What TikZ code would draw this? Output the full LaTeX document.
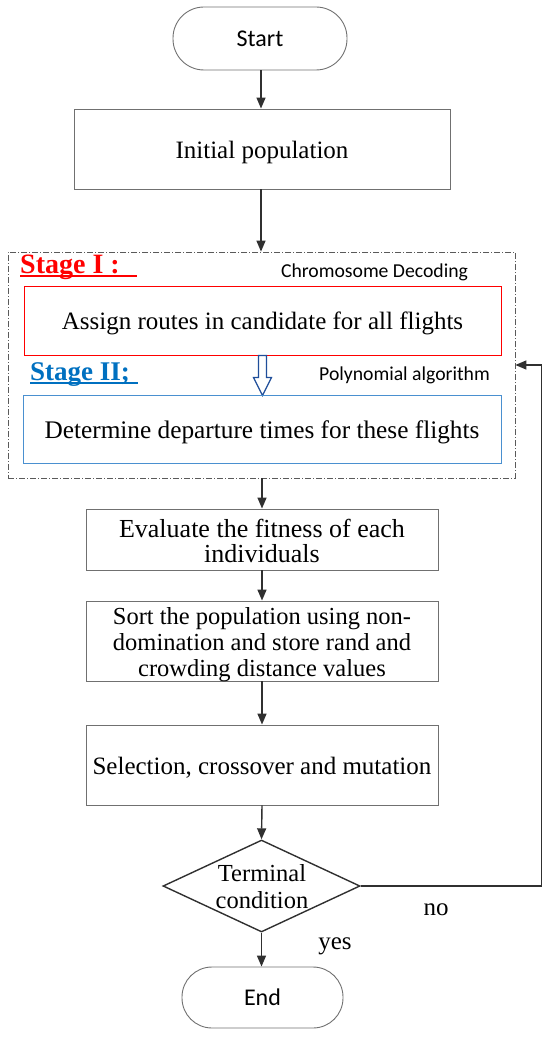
\documentclass[tikz,border=0pt]{standalone}
\usepackage{fontspec}
\setmainfont{Liberation Serif}
\newfontfamily\calib{Carlito}
\usetikzlibrary{arrows.meta,shapes.geometric,calc}
\definecolor{boxgray}{HTML}{707070}
\definecolor{linedark}{HTML}{303030}
\definecolor{stageblue}{HTML}{0070C0}
\definecolor{boxblue}{HTML}{4A90D0}
\definecolor{navy}{HTML}{1F4E9A}
\tikzset{
  flowbox/.style={draw=boxgray, line width=0.9pt, inner sep=0pt},
  ovalbox/.style={draw=boxgray, line width=0.9pt, inner sep=0pt,
    font=\calib\fontsize{24}{26}\selectfont},
  flowarrow/.style={draw=linedark, line width=1.4pt, -{Triangle[length=11pt,width=9pt]}},
  note/.style={inner sep=0pt, font=\calib\fontsize{19.7}{22}\selectfont},
  lbl/.style={inner sep=0pt, align=center, font=\fontsize{25}{26}\selectfont},
}
\begin{document}
\begin{tikzpicture}[x=1pt,y=-1pt]
\useasboundingbox (0,0) rectangle (550,1038);
% start
\node[ovalbox, minimum width=174pt, minimum height=63pt, rounded corners=31pt] (start) at (260,38.5) {Start};
% initial population
\node[flowbox, minimum width=376pt, minimum height=80pt] (init) at (262,149) {};
\node[lbl] (inittxt) at ($(init)+(0,3)$) {Initial population};
% dashed stage box
\node[draw=boxgray!80!black, line width=0.8pt, dash pattern=on 6pt off 2pt on 1pt off 2pt,
      minimum width=507pt, minimum height=226pt, inner sep=0pt] (stages) at (261.5,365) {};
% stage I
\node[inner sep=0pt, anchor=base west, text=red, font=\bfseries\fontsize{28}{30}\selectfont] (s1) at (20,273) {Stage I\hspace{7pt}:};
\draw[red, line width=2pt] ([yshift=-2.5pt]s1.base west) -- ++(117,0);
\node[note] (cd) at (374.5,272) {Chromosome Decoding};
\node[flowbox, draw=red, minimum width=477pt, minimum height=69pt] (assign) at (262.5,320.5) {};
\node[lbl] (assigntxt) at ($(assign)+(0,2.5)$) {Assign routes in candidate for all flights};
% hollow arrow
\draw[navy, line width=1.2pt, fill=white, line join=miter]
  ($(assign.south)+(-4,0)$) -- ++(8,0) -- ++(0,22) -- ++(5,0) -- ($(assign.south)+(0,40)$)
  -- ++(-9,-18) -- ++(5,0) -- cycle;
% stage II
\node[inner sep=0pt, anchor=base west, text=stageblue, font=\bfseries\fontsize{27}{29}\selectfont] (s2) at (30,380) {Stage II;};
\draw[stageblue, line width=2pt] ([yshift=-2.5pt]s2.base west) -- ++(108,0);
\node[note] (pa) at (404.5,375) {Polynomial algorithm};
\node[flowbox, draw=boxblue, minimum width=478pt, minimum height=68pt] (determine) at (262,429) {};
\node[lbl, font=\fontsize{25.3}{26}\selectfont] (determinetxt) at ($(determine)+(0,3)$) {Determine departure times for these flights};
% evaluate
\node[flowbox, minimum width=352pt, minimum height=61pt] (eval) at (262,539.5) {};
\node[lbl, font=\fontsize{26}{25}\selectfont] (evaltxt) at ($(eval)+(0,1.5)$) {Evaluate the fitness of each\\individuals};
% sort
\node[flowbox, minimum width=352pt, minimum height=80pt] (sort) at (262,641) {};
\node[lbl, font=\fontsize{24.5}{26}\selectfont] (sorttxt) at ($(sort)+(0,4)$) {Sort the population using non-\\domination and store rand and\\crowding distance values};
% selection
\node[flowbox, minimum width=352pt, minimum height=80pt] (sel) at (262,765) {};
\node[lbl] (seltxt) at ($(sel)+(0,3)$) {Selection, crossover and mutation};
% decision
\node[diamond, draw=linedark, line width=1.4pt, minimum width=197pt, minimum height=92pt, inner sep=0pt] (cond) at (261.5,886) {};
\node[lbl, font=\fontsize{24.5}{27}\selectfont] (condtxt) at (262,887) {Terminal\\condition};
% end
\node[ovalbox, minimum width=161pt, minimum height=61pt, rounded corners=30pt] (end) at (262.5,997.5) {End};
% labels
\node[lbl] (no) at (436,910) {no};
\node[lbl] (yes) at (335,946) {yes};
% arrows
\draw[flowarrow] (start.south -| 261,0) -- (init.north -| 261,0);
\draw[flowarrow] (init.south -| 261,0) -- (stages.north -| 261,0);
\draw[flowarrow] (stages.south -| 262,0) -- (eval.north -| 262,0);
\draw[flowarrow] (eval.south) -- (sort.north);
\draw[flowarrow] (sort.south -| 262,0) -- (sel.north -| 262,0);
\draw[flowarrow] (sel.south -| 262,0) -- (cond.north);
\draw[flowarrow] (cond.south) -- (end.north -| 261.5,0);
\draw[flowarrow] (cond.east) -- ++(180.5,0) |- (stages.east);
\end{tikzpicture}
\end{document}
